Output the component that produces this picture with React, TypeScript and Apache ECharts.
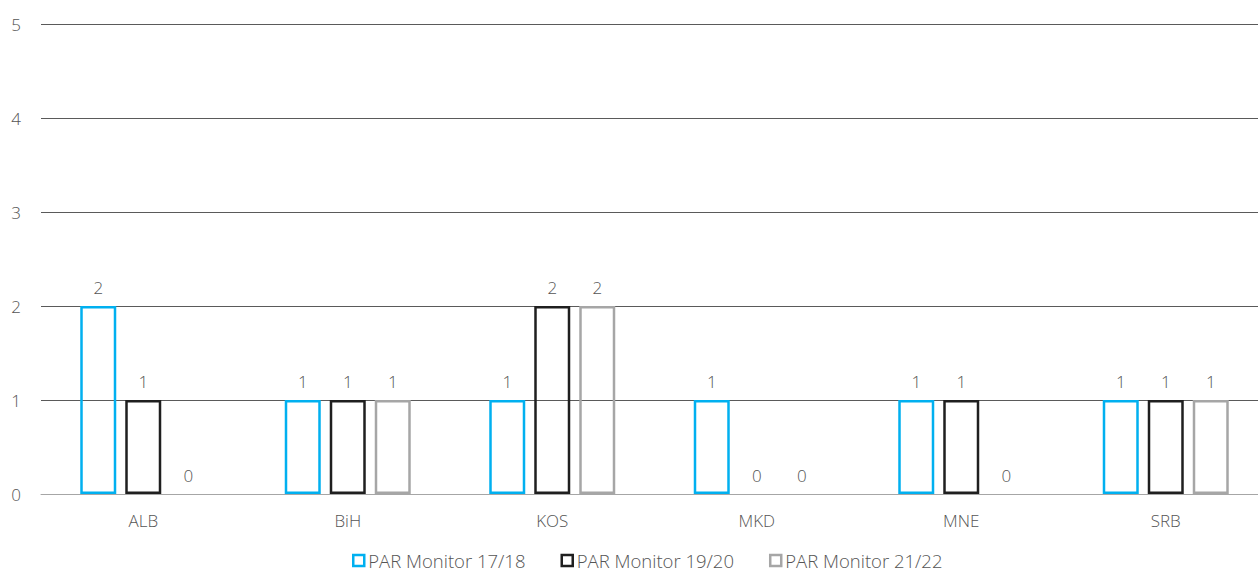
import React, { useEffect, useRef } from "react";
import * as echarts from "echarts";

const categories = ["ALB", "BiH", "KOS", "MKD", "MNE", "SRB"];
const seriesNames = ["PAR Monitor 17/18", "PAR Monitor 19/20", "PAR Monitor 21/22"];
const monitor1718 = [2, 1, 1, 1, 1, 1];
const monitor1920 = [1, 1, 2, 0, 1, 1];
const monitor2122 = [0, 1, 2, 0, 0, 1];
const yTicks = [0, 1, 2, 3, 4, 5];

const colors = ["#00b0f0", "#1f1f1f", "#a6a6a6"];
const textColor = "#555555";
const font = "'Open Sans', 'Noto Sans', sans-serif";

// the drawing surface is a little wider than the window; the plot runs past the right edge
const CANVAS_W = 1268;
const VIEW_W = 1258;

export default function App() {
  const ref = useRef<HTMLDivElement>(null);

  useEffect(() => {
    if (!ref.current) return;
    const chart = echarts.init(ref.current, undefined, { renderer: "svg" });
    const values = [monitor1718, monitor1920, monitor2122];
    chart.setOption({
      animation: false,
      textStyle: { fontFamily: font, fontWeight: 300 },
      grid: { left: 41, right: 0, top: 24, bottom: 78 },
      legend: {
        top: 546,
        left: 347,
        itemWidth: 11,
        itemHeight: 11,
        itemGap: 35,
        textStyle: { color: textColor, fontSize: 18.5, fontFamily: font, fontWeight: 300, padding: [0, 0, 0, -1] },
        data: seriesNames.map((name, i) => ({
          name,
          icon: "rect",
          itemStyle: { color: "#ffffff", borderColor: colors[i], borderWidth: 2.5 },
        })),
      },
      xAxis: {
        type: "category",
        data: categories,
        axisLine: { lineStyle: { color: "#a6a6a6", width: 1 } },
        axisTick: { show: false },
        axisLabel: { color: textColor, fontSize: 17, margin: 18, fontFamily: font, fontWeight: 300 },
      },
      yAxis: {
        type: "value",
        min: 0,
        max: 5,
        interval: 1,
        axisLine: { show: false },
        axisTick: { show: false },
        splitLine: { lineStyle: { color: "#5a5a5a", width: 1 } },
        axisLabel: {
          color: textColor,
          fontSize: 17,
          margin: 20,
          fontFamily: font,
          fontWeight: 300,
          formatter: (v: number) => (yTicks.includes(v) ? String(v) : ""),
        },
      },
      series: values.map((data, i) => ({
        name: seriesNames[i],
        type: "bar",
        // zero-height bars get no outline, only their value label
        data: data.map((v) => (v === 0 ? { value: v, itemStyle: { borderWidth: 0 } } : v)),
        barWidth: 36,
        barGap: "25%",
        itemStyle: { color: "rgba(0,0,0,0)", borderColor: colors[i], borderWidth: 2.5 },
        label: {
          show: true,
          position: "top",
          distance: 10,
          color: textColor,
          fontSize: 17,
          fontFamily: font,
          fontWeight: 300,
        },
      })),
    });
    return () => chart.dispose();
  }, []);

  return (
    <div style={{ position: "fixed", left: 0, top: 0, width: VIEW_W, height: 572, overflow: "hidden", background: "#ffffff" }}>
      <div ref={ref} style={{ width: CANVAS_W, height: 572 }} />
    </div>
  );
}
